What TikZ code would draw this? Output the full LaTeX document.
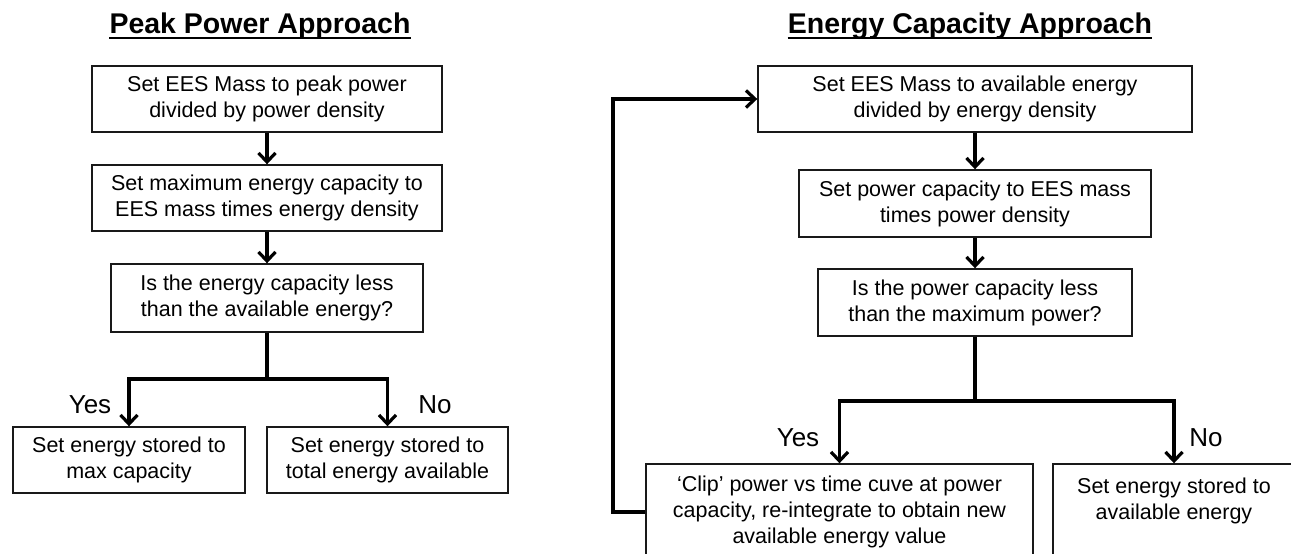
\documentclass[tikz,border=0pt]{standalone}
\usepackage{fontspec}
\setmainfont{Liberation Sans}
\usetikzlibrary{arrows.meta}
\begin{document}
\begin{tikzpicture}[x=1pt,y=-1pt,
  box/.style={draw=black!90, line width=1.4pt, fill=white, align=center, inner sep=0pt, font=\fontsize{21.5}{26}\selectfont},
  conn/.style={line width=3.2pt, draw=black},
  arr/.style={-{Straight Barb[length=9pt,width=17pt]}},
  ttl/.style={font=\bfseries\fontsize{28.5}{34}\selectfont, inner sep=0pt, anchor=base},
  ul/.style={line width=2pt},
  lbl/.style={font=\fontsize{26}{30}\selectfont, inner sep=0pt}]
\clip (0,0) rectangle (1291,554);
\fill[white] (0,0) rectangle (1291,554);

% ---------- Left: Peak Power Approach ----------
\node[ttl] (tL) at (260,34) {Peak Power Approach};
\draw[ul] ([yshift=-3.5pt]tL.base west) -- ([yshift=-3.5pt]tL.base east);

\node[box, minimum width=350pt, minimum height=66pt] (L1) at (267,99) {Set EES Mass to peak power\\divided by power density};
\node[box, minimum width=350pt, minimum height=66pt] (L2) at (267,198) {Set maximum energy capacity to\\EES mass times energy density};
\node[box, minimum width=312pt, minimum height=68pt] (L3) at (267,298) {Is the energy capacity less\\than the available energy?};
\node[box, minimum width=232pt, minimum height=66pt] (L4) at (129,460) {Set energy stored to\\max capacity};
\node[box, minimum width=241pt, minimum height=66pt] (L5) at (387.5,460) {Set energy stored to\\total energy available};

\node[lbl] (yL) at (90,405) {Yes};
\node[lbl] (nL) at (435,405) {No};

\coordinate (jL) at (267,379);
\draw[conn, arr] (L1.south) -- (L2.north);
\draw[conn, arr] (L2.south) -- (L3.north);
\draw[conn] (L3.south) -- (jL);
\draw[conn, arr] (jL) -| (L4.north);
\draw[conn, arr] (jL) -| (L5.north);

% ---------- Right: Energy Capacity Approach ----------
\node[ttl] (tR) at (970,34) {Energy Capacity Approach};
\draw[ul] ([yshift=-3.5pt]tR.base west) -- ([yshift=-3.5pt]tR.base east);

\node[box, minimum width=434pt, minimum height=66pt] (R1) at (975,99) {Set EES Mass to available energy\\divided by energy density};
\node[box, minimum width=352pt, minimum height=67pt] (R2) at (975,203.5) {Set power capacity to EES mass\\times power density};
\node[box, minimum width=314pt, minimum height=67pt] (R3) at (975,302.5) {Is the power capacity less\\than the maximum power?};
\node[box, minimum width=387pt, minimum height=96pt] (R4) at (839.5,512) {‘Clip’ power vs time cuve at power\\capacity, re-integrate to obtain new\\available energy value};
\node[box, minimum width=242pt, minimum height=96pt] (R5) at (1174,512) {Set energy stored to\\available energy\\\phantom{Set}};

\node[lbl] (yR) at (798,438) {Yes};
\node[lbl] (nR) at (1206,438) {No};

\coordinate (jR) at (975,401);
\coordinate (fb) at (613,300);
\draw[conn, arr] (R1.south) -- (R2.north);
\draw[conn, arr] (R2.south) -- (R3.north);
\draw[conn] (R3.south) -- (jR);
\draw[conn, arr] (jR) -| (R4.north);
\draw[conn, arr] (jR) -| (R5.north);
\draw[conn, arr] (R4.west) -- (R4.west -| fb) |- (R1.west);
\end{tikzpicture}
\end{document}
